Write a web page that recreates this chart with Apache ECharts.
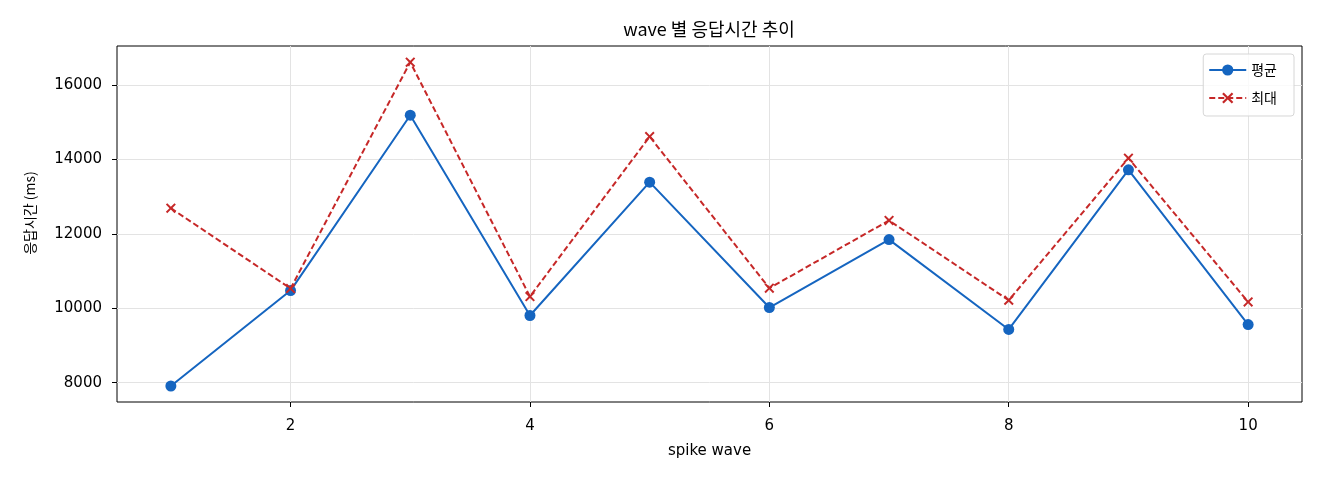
<!DOCTYPE html>
<html>
<head>
<meta charset="utf-8">
<script src="https://cdn.jsdelivr.net/npm/echarts@6/dist/echarts.min.js"></script>
<style>
  html, body { margin: 0; padding: 0; background: #fff; }
  #chart { width: 1320px; height: 480px; }
</style>
</head>
<body>
<div id="chart"></div>
<script>
// spike wave 번호
let waves = [1, 2, 3, 4, 5, 6, 7, 8, 9, 10]
// 평균 응답시간 (ms)
let avgMs = [7910, 10475, 15190, 9805, 13390, 10020, 11845, 9430, 13720, 9560]
// 최대 응답시간 (ms)
let maxMs = [12690, 10530, 16615, 10315, 14615, 10540, 12360, 10215, 14035, 10170]
// 눈금
let xTicks = [2, 4, 6, 8, 10]
let yTicks = [8000, 10000, 12000, 14000, 16000]

let cjk = '"Noto Sans CJK KR", sans-serif'
let latin = '"DejaVu Sans", "Noto Sans CJK KR", sans-serif'

let chart = echarts.init(document.getElementById('chart'), null, { renderer: 'canvas' })

let pairs = (ys) => waves.map((w, i) => [w, ys[i]])

let option = {
  animation: false,
  textStyle: { fontFamily: cjk },
  title: {
    text: 'wave 별 응답시간 추이',
    left: 709,
    top: 20,
    padding: 0,
    textAlign: 'center',
    textStyle: { fontSize: 18, fontWeight: 'normal', color: '#000', fontFamily: cjk }
  },
  legend: {
    data: ['평균', '최대'],
    orient: 'vertical',
    right: 26,
    top: 54,
    itemWidth: 37,
    itemHeight: 14,
    itemGap: 14,
    padding: [9, 17, 11, 5],
    backgroundColor: 'rgba(255,255,255,0.8)',
    borderColor: '#d6d6d6',
    borderWidth: 1,
    borderRadius: 3,
    textStyle: { fontSize: 14, color: '#000', fontFamily: cjk }
  },
  grid: {
    left: 117,
    right: 18,
    top: 46,
    bottom: 78,
    show: true,
    borderColor: '#000',
    borderWidth: 1
  },
  xAxis: {
    type: 'value',
    min: 0.55,
    max: 10.45,
    name: 'spike wave',
    nameLocation: 'middle',
    nameGap: 42,
    nameTextStyle: { fontSize: 15, color: '#000', fontFamily: latin },
    axisLine: { show: false },
    axisTick: {
      show: true,
      inside: false,
      length: 5,
      customValues: xTicks,
      lineStyle: { color: '#000' }
    },
    axisLabel: {
      customValues: xTicks,
      fontSize: 15,
      fontFamily: latin,
      color: '#000',
      margin: 17
    },
    splitLine: {
      show: true,
      lineStyle: { color: '#e3e3e3', width: 1 }
    }
  },
  yAxis: {
    type: 'value',
    min: 7480,
    max: 17050,
    name: '응답시간 (ms)',
    nameLocation: 'middle',
    nameGap: 80,
    nameTextStyle: { fontSize: 14, color: '#000', fontFamily: cjk, padding: [0, 0, 0, 22] },
    axisLine: { show: false },
    axisTick: {
      show: true,
      inside: false,
      length: 5,
      customValues: yTicks,
      lineStyle: { color: '#000' }
    },
    axisLabel: {
      customValues: yTicks,
      formatter: (v) => String(v),
      fontSize: 15,
      fontFamily: latin,
      color: '#000',
      margin: 15
    },
    splitLine: {
      show: true,
      lineStyle: { color: '#e3e3e3', width: 1 }
    }
  },
  series: [
    {
      name: '평균',
      type: 'line',
      data: pairs(avgMs),
      symbol: 'circle',
      symbolSize: 11,
      color: '#1565C0',
      itemStyle: { color: '#1565C0' },
      lineStyle: { color: '#1565C0', width: 2 },
      z: 3
    },
    {
      name: '최대',
      type: 'line',
      data: pairs(maxMs),
      symbol: 'path://M0,1.4L1.4,0L5,3.6L8.6,0L10,1.4L6.4,5L10,8.6L8.6,10L5,6.4L1.4,10L0,8.6L3.6,5Z',
      symbolSize: 10,
      color: '#C62828',
      itemStyle: { color: '#C62828' },
      lineStyle: { color: '#C62828', width: 2, type: [6, 3] },
      z: 4
    }
  ]
}

chart.setOption(option)
</script>
</body>
</html>
